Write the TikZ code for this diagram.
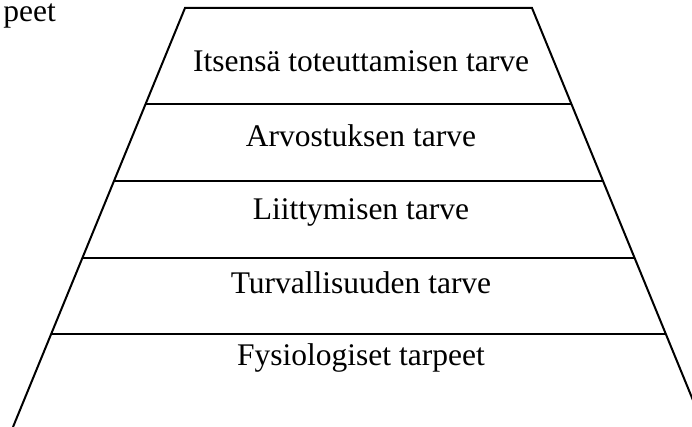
\documentclass[tikz,border=0pt]{standalone}
\usepackage{fontspec}
\setmainfont{Liberation Serif}
\usetikzlibrary{calc}

\begin{document}
\begin{tikzpicture}[x=0.5pt,y=-0.5pt,
    level/.style={font=\fontsize{15.75}{18}\selectfont, anchor=base},
    edge/.style={line width=1pt}]
  \useasboundingbox (0,0) rectangle (692,427);
  \clip (0,0) rectangle (692,427);
  % corners of the pyramid
  \coordinate (tl) at (185,8);
  \coordinate (tr) at (532,8);
  \coordinate (bl) at (13,427);
  \coordinate (br) at (704,427);
  \draw[edge] (bl) -- (tl) -- (tr) -- (br);
  % dividing lines
  \foreach \y in {104,181,258,334}
    \draw[edge] ($(tl)!{(\y-8)/419}!(bl)$) -- ($(tr)!{(\y-8)/419}!(br)$);
  \node (self) [level] at (361,72) {Itsensä toteuttamisen tarve};
  \node (esteem) [level] at (361,147) {Arvostuksen tarve};
  \node (belong) [level] at (361,220) {Liittymisen tarve};
  \node (safety) [level] at (361,294) {Turvallisuuden tarve};
  \node (physio) [level] at (361,366) {Fysiologiset tarpeet};
  \node (cut) [level, anchor=base west, inner sep=0pt] at (3,22) {peet};
\end{tikzpicture}
\end{document}
